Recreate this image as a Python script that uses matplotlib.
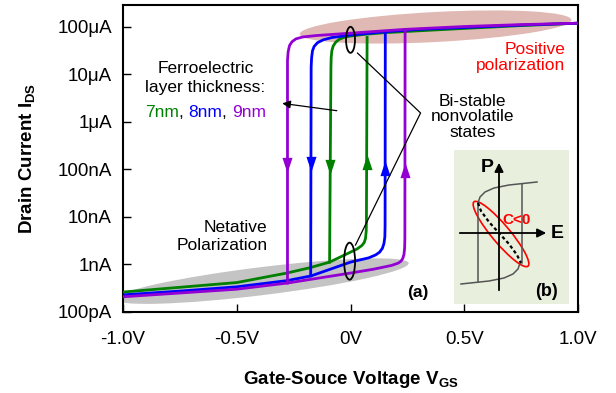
import numpy as np
import matplotlib
matplotlib.use('Agg')
import matplotlib.pyplot as plt
import matplotlib.transforms as mtrans
from matplotlib.patches import Ellipse
from matplotlib.offsetbox import TextArea, HPacker, AnnotationBbox

plt.rcParams['font.family'] = ['Liberation Sans', 'DejaVu Sans']
plt.rcParams['mathtext.fontset'] = 'custom'
plt.rcParams['mathtext.rm'] = 'Liberation Sans'
plt.rcParams['mathtext.bf'] = 'Liberation Sans:bold'

# gate voltage (V) and log10 of drain current (A)
# forward sweep: low branch + jump up ; backward sweep: top branch + jump down
v_fwd_7 = [-1.0, -0.75, -0.5, -0.28, -0.18, -0.092, 0.0, 0.03, 0.05, 0.06, 0.066, 0.069, 0.07, 0.073]
i_fwd_7 = [-9.58, -9.48, -9.38, -9.18, -9.07, -8.95, -8.74, -8.67, -8.6, -8.54, -8.45, -8.3, -8.1, -4.22]
v_bwd_7 = [1.0, 0.75, 0.5, 0.3, 0.15, 0.07, 0.0, -0.03, -0.05, -0.065, -0.076, -0.082, -0.085, -0.086, -0.092]
i_bwd_7 = [-3.92, -3.97, -4.03, -4.08, -4.12, -4.15, -4.19, -4.22, -4.26, -4.32, -4.4, -4.5, -4.65, -4.85, -8.95]

v_fwd_8 = [-1.0, -0.75, -0.5, -0.28, -0.173, 0.0, 0.08, 0.11, 0.128, 0.14, 0.147, 0.151, 0.152, 0.153]
i_fwd_8 = [-9.64, -9.56, -9.47, -9.34, -9.24, -8.95, -8.86, -8.8, -8.74, -8.66, -8.56, -8.42, -8.2, -4.1]
v_bwd_8 = [1.0, 0.75, 0.5, 0.3, 0.15, 0.0, -0.08, -0.12, -0.145, -0.16, -0.167, -0.171, -0.173, -0.175]
i_bwd_8 = [-3.92, -3.96, -4.01, -4.05, -4.1, -4.17, -4.22, -4.27, -4.33, -4.41, -4.5, -4.65, -4.85, -9.24]

v_fwd_9 = [-1.0, -0.75, -0.5, -0.277, 0.0, 0.1, 0.18, 0.21, 0.222, 0.23, 0.235, 0.238, 0.239, 0.24]
i_fwd_9 = [-9.68, -9.6, -9.52, -9.39, -9.18, -9.1, -9.02, -8.97, -8.93, -8.87, -8.79, -8.65, -8.45, -4.06]
v_bwd_9 = [1.0, 0.75, 0.5, 0.24, 0.0, -0.15, -0.21, -0.24, -0.257, -0.268, -0.274, -0.277, -0.277]
i_bwd_9 = [-3.92, -3.95, -3.99, -4.05, -4.13, -4.18, -4.21, -4.25, -4.31, -4.39, -4.52, -4.7, -9.39]

# arrow heads on the switching lines (voltage, log10 current)
arrow_down_v = [-0.277, -0.174, -0.089]
arrow_down_i = [-6.9, -6.88, -6.95]
arrow_up_v = [0.071, 0.152, 0.239]
arrow_up_i = [-6.84, -6.97, -7.01]

colors = {'7nm': '#008000', '8nm': '#0000ff', '9nm': '#9400d3'}

yticks = [1e-10, 1e-9, 1e-8, 1e-7, 1e-6, 1e-5, 1e-4]
ylabels = ['100pA', '1nA', '10nA', '100nA', '1\u03bcA', '10\u03bcA', '100\u03bcA']
xticks = [-1.0, -0.5, 0.0, 0.5, 1.0]
xlabels = ['-1.0V', '-0.5V', '0V', '0.5V', '1.0V']

# inset (b): P-E sketch, in pixel-like units around the origin
pe_up_e = [-21, -19, -14, -5, 10, 38]
pe_up_p = [30, 36, 41, 45, 48, 51]
pe_lo_e = [21, 19, 14, 5, -10, -38]
pe_lo_p = [-30, -36, -41, -45, -48, -51]
pe_s_e = [-21, -18, -10, 0, 10, 18, 22]
pe_s_p = [30, 22, 11, 0, -11, -22, -30]

fig = plt.figure(figsize=(6.16, 3.93), dpi=100)
ax = fig.add_axes([123/616, 81/393, 455/616, 307/393])

ax.set_xlim(-1, 1)
ax.set_yscale('log')
ax.set_ylim(1e-10, 10**-3.537)


def px_ellipse(v, logi, w, h, angle, **kw):
    tr = fig.dpi_scale_trans + mtrans.ScaledTranslation(v, 10**logi, ax.transData)
    e = Ellipse((0, 0), w/100, h/100, angle=angle, transform=tr, **kw)
    ax.add_patch(e)


px_ellipse(0.374, -4.0, 272, 30, 3, facecolor='#e0b8b4', edgecolor='none', zorder=1)
px_ellipse(-0.39, -9.35, 296, 28, 7, facecolor='#c4c4c4', edgecolor='none', zorder=1)

for key, vf, i_f, vb, ib in [('7nm', v_fwd_7, i_fwd_7, v_bwd_7, i_bwd_7),
                             ('8nm', v_fwd_8, i_fwd_8, v_bwd_8, i_bwd_8),
                             ('9nm', v_fwd_9, i_fwd_9, v_bwd_9, i_bwd_9)]:
    ax.plot(vf, 10**np.array(i_f), color=colors[key], lw=2, zorder=3)
    ax.plot(vb, 10**np.array(ib), color=colors[key], lw=2, zorder=3)

tri_down = [(-0.33, 0.5), (0.33, 0.5), (0, -0.5)]
tri_up = [(-0.33, -0.5), (0.33, -0.5), (0, 0.5)]
for v, li, key in zip(arrow_down_v, arrow_down_i, ['9nm', '8nm', '7nm']):
    ax.plot(v, 10**li, marker=tri_down, color=colors[key], ms=11, mew=0, zorder=4)
for v, li, key in zip(arrow_up_v, arrow_up_i, ['7nm', '8nm', '9nm']):
    ax.plot(v, 10**li, marker=tri_up, color=colors[key], ms=11, mew=0, zorder=4)

# bi-stable markers
px_ellipse(0.0, -4.27, 9, 26, 0, facecolor='none', edgecolor='black', lw=1.3, zorder=5)
px_ellipse(-0.004, -8.93, 11, 37, 0, facecolor='none', edgecolor='black', lw=1.3, zorder=5)
ax.plot([0.031, 0.308, 0.022], [10**-4.55, 10**-5.81, 10**-8.59], color='black', lw=0.9, zorder=5)

ax.text(0.536, 10**-5.89, 'Bi-stable\nnonvolatile\nstates', ha='center', va='center',
        fontsize=12.5, linespacing=1.05, zorder=6)
ax.text(0.945, 10**-4.64, 'Positive\npolarization', ha='right', va='center',
        fontsize=12.5, color='#ff0000', linespacing=1.05, zorder=6)
ax.text(-0.365, 10**-8.41, 'Netative\nPolarization', ha='right', va='center',
        fontsize=12.5, linespacing=1.3, multialignment='right', zorder=6)
ax.text(-0.637, 10**-5.07, 'Ferroelectric\nlayer thickness:', ha='center', va='center',
        fontsize=12.5, linespacing=1.3, zorder=6)
parts = [TextArea('7nm', textprops=dict(color=colors['7nm'], fontsize=12.5)),
         TextArea(', ', textprops=dict(color='black', fontsize=12.5)),
         TextArea('8nm', textprops=dict(color=colors['8nm'], fontsize=12.5)),
         TextArea(', ', textprops=dict(color='black', fontsize=12.5)),
         TextArea('9nm', textprops=dict(color=colors['9nm'], fontsize=12.5))]
box = HPacker(children=parts, align='baseline', pad=0, sep=0)
ab = AnnotationBbox(box, (-0.637, 10**-5.81), frameon=False, box_alignment=(0.5, 0.5), zorder=6)
ax.add_artist(ab)
ax.annotate('', xy=(-0.312, 10**-5.6), xytext=(-0.048, 10**-5.77),
            arrowprops=dict(arrowstyle='-|>', color='black', lw=0.9, mutation_scale=12), zorder=6)
ax.text(0.295, 10**-9.58, '(a)', ha='center', va='center', fontsize=12.5, fontweight='bold')

ax.set_xticks(xticks)
ax.set_xticklabels(xlabels)
ax.set_yticks(yticks)
ax.set_yticklabels(ylabels)
ax.minorticks_off()
ax.tick_params(direction='in', length=6, width=1, labelsize=13.5)
ax.tick_params(axis='x', pad=14)
ax.tick_params(axis='y', pad=8)
for s in ax.spines.values():
    s.set_linewidth(1.5)

ax.set_xlabel(r'Gate-Souce Voltage V$_\mathbf{GS}$', fontsize=13.5, fontweight='bold', labelpad=15)
ax.set_ylabel(r'Drain Current I$_\mathbf{DS}$', fontsize=13.5, fontweight='bold', labelpad=14)

# inset (b)
ins = fig.add_axes([454/616, 89/393, 115/616, 154/393])
ins.set_xlim(-45, 70)
ins.set_ylim(-71, 83)
ins.set_facecolor('#e8efdc')
for s in ins.spines.values():
    s.set_visible(False)
ins.set_xticks([])
ins.set_yticks([])
ins.annotate('', xy=(50, 0), xytext=(-42, 0),
             arrowprops=dict(arrowstyle='-|>', color='black', lw=1.3, mutation_scale=13))
ins.annotate('', xy=(0, 73), xytext=(0, -60),
             arrowprops=dict(arrowstyle='-|>', color='black', lw=1.3, mutation_scale=13))
ins.plot(pe_up_e, pe_up_p, color='#555555', lw=1.1)
ins.plot(pe_lo_e, pe_lo_p, color='#555555', lw=1.1)
ins.plot([23, 23], [49, -30], color='#555555', lw=1.1)
ins.plot([-21, -21], [30, -48.5], color='#555555', lw=1.1)
ins.plot(pe_s_e, pe_s_p, color='black', lw=1.6, linestyle=(0, (1.5, 1.2)))
ins.add_patch(Ellipse((2, -1), 84, 18, angle=-50, facecolor='none', edgecolor='red', lw=1.2))
ins.text(-12, 65, 'P', ha='center', va='center', fontsize=14, fontweight='bold')
ins.text(58, 0, 'E', ha='center', va='center', fontsize=14, fontweight='bold')
ins.text(18, 13, 'C<0', ha='center', va='center', fontsize=11, fontweight='bold', color='red')
ins.text(48, -59, '(b)', ha='center', va='center', fontsize=13, fontweight='bold')

fig.savefig('out.png', dpi=100)
